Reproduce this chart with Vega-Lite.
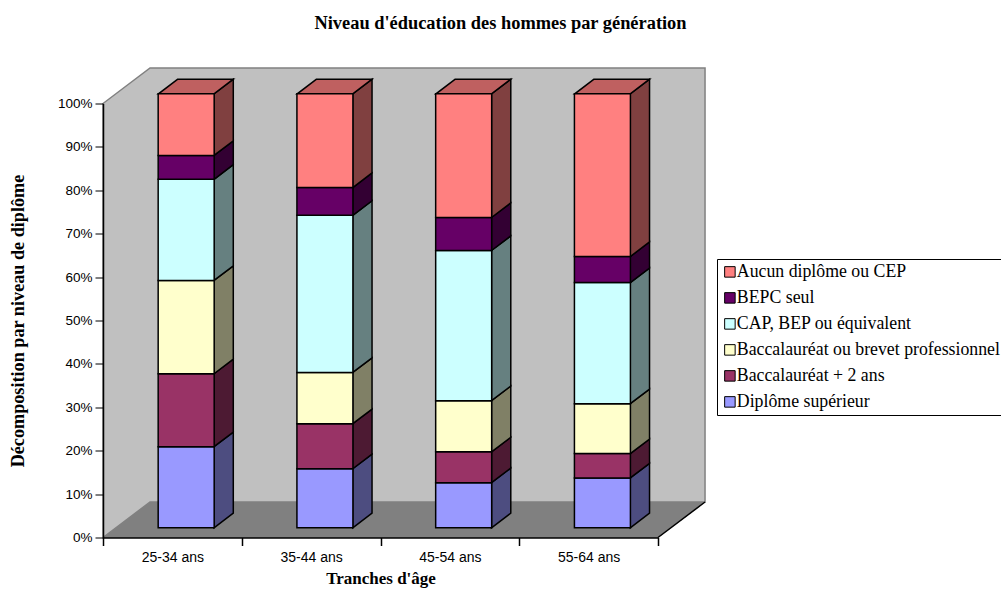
{
"$schema":"https://vega.github.io/schema/vega-lite/v6.json",
"width":555,"height":434,
"autosize":{"type":"none"},
"padding":{"left":103,"top":103.5,"right":343,"bottom":51.5},
"background":"white",
"view":{"stroke":null},
"title":{"text":"Niveau d'éducation des hommes par génération","font":"Liberation Serif","fontSize":18.4,"fontWeight":"bold","color":"black","anchor":"middle","dx":120,"offset":33},
"config":{"axis":{"labelFont":"Liberation Sans","labelFontSize":13.5,"labelColor":"black","domainColor":"black","tickColor":"black","grid":false,"titleFont":"Liberation Serif","titleFontSize":18.2,"titleFontWeight":"bold","titleColor":"black"}},
"datasets":{
"walls":[{"x":0,"low":0,"high":1},{"x":0.339,"low":0.0818,"high":1.0818},{"x":4.339,"low":0.0818,"high":1.0818}],
"floor":[{"y":0,"xl":0,"xr":4},{"y":0.0818,"xl":0.339,"xr":4.339}],
"edge":[{"x":4,"y":0},{"x":4.339,"y":0.0818}],
"bars":[
{"age":"25-34 ans","level":"Diplôme supérieur","start":0,"end":0.187},
{"age":"25-34 ans","level":"Baccalauréat + 2 ans","start":0.187,"end":0.355},
{"age":"25-34 ans","level":"Baccalauréat ou brevet professionnel","start":0.355,"end":0.57},
{"age":"25-34 ans","level":"CAP, BEP ou équivalent","start":0.57,"end":0.803},
{"age":"25-34 ans","level":"BEPC seul","start":0.803,"end":0.858},
{"age":"25-34 ans","level":"Aucun diplôme ou CEP","start":0.858,"end":1},
{"age":"35-44 ans","level":"Diplôme supérieur","start":0,"end":0.136},
{"age":"35-44 ans","level":"Baccalauréat + 2 ans","start":0.136,"end":0.24},
{"age":"35-44 ans","level":"Baccalauréat ou brevet professionnel","start":0.24,"end":0.358},
{"age":"35-44 ans","level":"CAP, BEP ou équivalent","start":0.358,"end":0.72},
{"age":"35-44 ans","level":"BEPC seul","start":0.72,"end":0.784},
{"age":"35-44 ans","level":"Aucun diplôme ou CEP","start":0.784,"end":1},
{"age":"45-54 ans","level":"Diplôme supérieur","start":0,"end":0.104},
{"age":"45-54 ans","level":"Baccalauréat + 2 ans","start":0.104,"end":0.175},
{"age":"45-54 ans","level":"Baccalauréat ou brevet professionnel","start":0.175,"end":0.293},
{"age":"45-54 ans","level":"CAP, BEP ou équivalent","start":0.293,"end":0.639},
{"age":"45-54 ans","level":"BEPC seul","start":0.639,"end":0.715},
{"age":"45-54 ans","level":"Aucun diplôme ou CEP","start":0.715,"end":1},
{"age":"55-64 ans","level":"Diplôme supérieur","start":0,"end":0.115},
{"age":"55-64 ans","level":"Baccalauréat + 2 ans","start":0.115,"end":0.171},
{"age":"55-64 ans","level":"Baccalauréat ou brevet professionnel","start":0.171,"end":0.286},
{"age":"55-64 ans","level":"CAP, BEP ou équivalent","start":0.286,"end":0.565},
{"age":"55-64 ans","level":"BEPC seul","start":0.565,"end":0.625},
{"age":"55-64 ans","level":"Aucun diplôme ou CEP","start":0.625,"end":1}
],
"sides":[
{"age":"25-34 ans","level":"Diplôme supérieur","x":0.8,"low":0,"high":0.187},
{"age":"25-34 ans","level":"Diplôme supérieur","x":0.939,"low":0.0336,"high":0.2206},
{"age":"25-34 ans","level":"Baccalauréat + 2 ans","x":0.8,"low":0.187,"high":0.355},
{"age":"25-34 ans","level":"Baccalauréat + 2 ans","x":0.939,"low":0.2206,"high":0.3886},
{"age":"25-34 ans","level":"Baccalauréat ou brevet professionnel","x":0.8,"low":0.355,"high":0.57},
{"age":"25-34 ans","level":"Baccalauréat ou brevet professionnel","x":0.939,"low":0.3886,"high":0.6036},
{"age":"25-34 ans","level":"CAP, BEP ou équivalent","x":0.8,"low":0.57,"high":0.803},
{"age":"25-34 ans","level":"CAP, BEP ou équivalent","x":0.939,"low":0.6036,"high":0.8366},
{"age":"25-34 ans","level":"BEPC seul","x":0.8,"low":0.803,"high":0.858},
{"age":"25-34 ans","level":"BEPC seul","x":0.939,"low":0.8366,"high":0.8916},
{"age":"25-34 ans","level":"Aucun diplôme ou CEP","x":0.8,"low":0.858,"high":1},
{"age":"25-34 ans","level":"Aucun diplôme ou CEP","x":0.939,"low":0.8916,"high":1.0336},
{"age":"35-44 ans","level":"Diplôme supérieur","x":1.8,"low":0,"high":0.136},
{"age":"35-44 ans","level":"Diplôme supérieur","x":1.939,"low":0.0336,"high":0.1696},
{"age":"35-44 ans","level":"Baccalauréat + 2 ans","x":1.8,"low":0.136,"high":0.24},
{"age":"35-44 ans","level":"Baccalauréat + 2 ans","x":1.939,"low":0.1696,"high":0.2736},
{"age":"35-44 ans","level":"Baccalauréat ou brevet professionnel","x":1.8,"low":0.24,"high":0.358},
{"age":"35-44 ans","level":"Baccalauréat ou brevet professionnel","x":1.939,"low":0.2736,"high":0.3916},
{"age":"35-44 ans","level":"CAP, BEP ou équivalent","x":1.8,"low":0.358,"high":0.72},
{"age":"35-44 ans","level":"CAP, BEP ou équivalent","x":1.939,"low":0.3916,"high":0.7536},
{"age":"35-44 ans","level":"BEPC seul","x":1.8,"low":0.72,"high":0.784},
{"age":"35-44 ans","level":"BEPC seul","x":1.939,"low":0.7536,"high":0.8176},
{"age":"35-44 ans","level":"Aucun diplôme ou CEP","x":1.8,"low":0.784,"high":1},
{"age":"35-44 ans","level":"Aucun diplôme ou CEP","x":1.939,"low":0.8176,"high":1.0336},
{"age":"45-54 ans","level":"Diplôme supérieur","x":2.8,"low":0,"high":0.104},
{"age":"45-54 ans","level":"Diplôme supérieur","x":2.939,"low":0.0336,"high":0.1376},
{"age":"45-54 ans","level":"Baccalauréat + 2 ans","x":2.8,"low":0.104,"high":0.175},
{"age":"45-54 ans","level":"Baccalauréat + 2 ans","x":2.939,"low":0.1376,"high":0.2086},
{"age":"45-54 ans","level":"Baccalauréat ou brevet professionnel","x":2.8,"low":0.175,"high":0.293},
{"age":"45-54 ans","level":"Baccalauréat ou brevet professionnel","x":2.939,"low":0.2086,"high":0.3266},
{"age":"45-54 ans","level":"CAP, BEP ou équivalent","x":2.8,"low":0.293,"high":0.639},
{"age":"45-54 ans","level":"CAP, BEP ou équivalent","x":2.939,"low":0.3266,"high":0.6726},
{"age":"45-54 ans","level":"BEPC seul","x":2.8,"low":0.639,"high":0.715},
{"age":"45-54 ans","level":"BEPC seul","x":2.939,"low":0.6726,"high":0.7486},
{"age":"45-54 ans","level":"Aucun diplôme ou CEP","x":2.8,"low":0.715,"high":1},
{"age":"45-54 ans","level":"Aucun diplôme ou CEP","x":2.939,"low":0.7486,"high":1.0336},
{"age":"55-64 ans","level":"Diplôme supérieur","x":3.8,"low":0,"high":0.115},
{"age":"55-64 ans","level":"Diplôme supérieur","x":3.939,"low":0.0336,"high":0.1486},
{"age":"55-64 ans","level":"Baccalauréat + 2 ans","x":3.8,"low":0.115,"high":0.171},
{"age":"55-64 ans","level":"Baccalauréat + 2 ans","x":3.939,"low":0.1486,"high":0.2046},
{"age":"55-64 ans","level":"Baccalauréat ou brevet professionnel","x":3.8,"low":0.171,"high":0.286},
{"age":"55-64 ans","level":"Baccalauréat ou brevet professionnel","x":3.939,"low":0.2046,"high":0.3196},
{"age":"55-64 ans","level":"CAP, BEP ou équivalent","x":3.8,"low":0.286,"high":0.565},
{"age":"55-64 ans","level":"CAP, BEP ou équivalent","x":3.939,"low":0.3196,"high":0.5986},
{"age":"55-64 ans","level":"BEPC seul","x":3.8,"low":0.565,"high":0.625},
{"age":"55-64 ans","level":"BEPC seul","x":3.939,"low":0.5986,"high":0.6586},
{"age":"55-64 ans","level":"Aucun diplôme ou CEP","x":3.8,"low":0.625,"high":1},
{"age":"55-64 ans","level":"Aucun diplôme ou CEP","x":3.939,"low":0.6586,"high":1.0336}
],
"tops":[
{"age":"25-34 ans","y":1,"xl":0.4,"xr":0.8},{"age":"25-34 ans","y":1.0336,"xl":0.539,"xr":0.939},
{"age":"35-44 ans","y":1,"xl":1.4,"xr":1.8},{"age":"35-44 ans","y":1.0336,"xl":1.539,"xr":1.939},
{"age":"45-54 ans","y":1,"xl":2.4,"xr":2.8},{"age":"45-54 ans","y":1.0336,"xl":2.539,"xr":2.939},
{"age":"55-64 ans","y":1,"xl":3.4,"xr":3.8},{"age":"55-64 ans","y":1.0336,"xl":3.539,"xr":3.939}
]
},
"resolve":{"scale":{"x":"independent","fill":"independent"},"axis":{"y":"independent"},"legend":{"fill":"independent"}},
"layer":[
{"data":{"name":"floor"},
 "mark":{"type":"area","orient":"horizontal","fill":"#808080","stroke":"#808080","strokeWidth":1},
 "encoding":{"y":{"field":"y","type":"quantitative","scale":{"domain":[0,1]},"axis":null},
  "x":{"field":"xl","type":"quantitative","scale":{"domain":[0,4]},"axis":null},"x2":{"field":"xr"}}},
{"data":{"name":"walls"},
 "mark":{"type":"area","fill":"#C0C0C0","stroke":"#808080","strokeWidth":1.5},
 "encoding":{"x":{"field":"x","type":"quantitative","scale":{"domain":[0,4]},"axis":null},
  "y":{"field":"low","type":"quantitative","scale":{"domain":[0,1]},"axis":null},"y2":{"field":"high"}}},
{"data":{"name":"edge"},
 "mark":{"type":"line","color":"black","strokeWidth":1.5},
 "encoding":{"x":{"field":"x","type":"quantitative","scale":{"domain":[0,4]},"axis":null},
  "y":{"field":"y","type":"quantitative","scale":{"domain":[0,1]},"axis":null}}},
{"data":{"name":"sides"},
 "mark":{"type":"area","stroke":"black","strokeWidth":1.5,"yOffset":-9.7,"y2Offset":-9.7},
 "encoding":{"x":{"field":"x","type":"quantitative","scale":{"domain":[0,4]},"axis":null},
  "y":{"field":"low","type":"quantitative","scale":{"domain":[0,1]},"axis":null},"y2":{"field":"high"},
  "detail":{"field":"age"},
  "fill":{"field":"level","type":"nominal","legend":null,"scale":{"domain":["Aucun diplôme ou CEP","BEPC seul","CAP, BEP ou équivalent","Baccalauréat ou brevet professionnel","Baccalauréat + 2 ans","Diplôme supérieur"],"range":["#804040","#330033","#668080","#808066","#4D1A33","#4D4D80"]}}}},
{"data":{"name":"tops"},
 "mark":{"type":"area","orient":"horizontal","fill":"#BF6060","stroke":"black","strokeWidth":1.5,"yOffset":-9.7},
 "encoding":{"y":{"field":"y","type":"quantitative","scale":{"domain":[0,1]},"axis":null},
  "x":{"field":"xl","type":"quantitative","scale":{"domain":[0,4]},"axis":null},"x2":{"field":"xr"},
  "detail":{"field":"age"}}},
{"data":{"name":"bars"},
 "mark":{"type":"bar","stroke":"black","strokeWidth":1.5,"width":{"band":0.4036},"xOffset":13.8,"yOffset":-9.7,"y2Offset":-9.7},
 "encoding":{
  "x":{"field":"age","type":"nominal","sort":null,"scale":{"paddingInner":0,"paddingOuter":0},
   "axis":{"title":"Tranches d'âge","titleFontSize":17,"labelAngle":0,"labelFontSize":14,"tickBand":"extent","tickSize":8,"labelPadding":5,"titlePadding":6,"zindex":1,"domainWidth":1.5,"tickWidth":1.5}},
  "y":{"field":"start","type":"quantitative","scale":{"domain":[0,1]},
   "axis":{"title":"Décomposition par niveau de diplôme","format":".0%","values":[0,0.1,0.2,0.3,0.4,0.5,0.6,0.7,0.8,0.9,1],"tickSize":8,"labelPadding":3,"titlePadding":30,"zindex":1,"domainWidth":1.5}},
  "y2":{"field":"end"},
  "fill":{"field":"level","type":"nominal",
   "scale":{"domain":["Aucun diplôme ou CEP","BEPC seul","CAP, BEP ou équivalent","Baccalauréat ou brevet professionnel","Baccalauréat + 2 ans","Diplôme supérieur"],"range":["#FF8080","#660066","#CCFFFF","#FFFFCC","#993366","#9999FF"]},
   "legend":{"orient":"none","legendX":614,"legendY":155.5,"title":null,"strokeColor":"black","fillColor":"white","padding":4,"labelFont":"Liberation Serif","labelFontSize":17.8,"labelColor":"black","labelLimit":400,"symbolType":"square","symbolSize":110,"symbolStrokeColor":"black","symbolStrokeWidth":1,"symbolOpacity":1,"rowPadding":7,"labelOffset":-2,"columnPadding":0}}
 }}
]
}
